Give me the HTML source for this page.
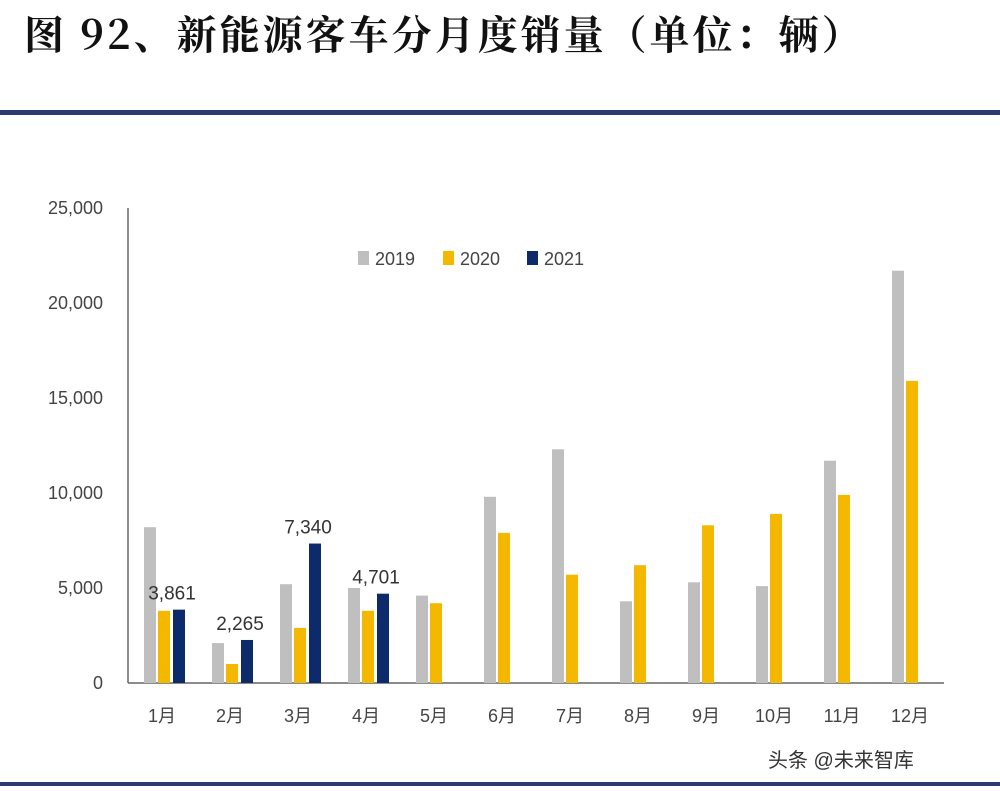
<!DOCTYPE html>
<html><head><meta charset="utf-8"><style>
body{margin:0;background:#fff;width:1000px;height:791px;overflow:hidden;position:relative}
#title{position:absolute;left:24px;top:4px;font:bold 40px "Noto Serif CJK SC","Liberation Serif",serif;color:#111;letter-spacing:3px;white-space:nowrap}
#rule{position:absolute;left:0;top:110px;width:1000px;height:5px;background:#2e3a6e}
#rule2{position:absolute;left:0;top:782px;width:1000px;height:4px;background:#2e3a6e}
#wm{position:absolute;left:768px;top:744px;font:20px "Liberation Sans","Noto Sans CJK SC",sans-serif;color:#333}
</style></head><body>
<div id="title">图 92、新能源客车分月度销量（单位：辆）</div>
<div id="rule"></div>
<svg id="chart" width="1000" height="791" style="position:absolute;left:0;top:0"></svg>
<div id="rule2"></div>
<div id="wm">头条 @未来智库</div>
<script>
const categories=["1月","2月","3月","4月","5月","6月","7月","8月","9月","10月","11月","12月"];
const s2019=[8200,2100,5200,5000,4600,9800,12300,4300,5300,5100,11700,21700];
const s2020=[3800,1000,2900,3800,4200,7900,5700,6200,8300,8900,9900,15900];
const s2021=[3861,2265,7340,4701];
const yTicks=[0,5000,10000,15000,20000,25000];
const seriesNames=["2019","2020","2021"];
const colors=["#bfbfbf","#f5b800","#0d2a6b"];
const NS="http://www.w3.org/2000/svg";
const svg=document.getElementById('chart');
const x0=128,step=68,y0=683,ppu=95/5000;
const y=v=>y0-v*ppu;
const xc=i=>x0+step*(i+0.5);
function mk(t,a){const e=document.createElementNS(NS,t);for(const k in a)e.setAttribute(k,a[k]);svg.appendChild(e);return e;}
yTicks.forEach(t=>{
 const e=mk('text',{x:103,y:y(t)+6,'text-anchor':'end','font-size':18,'font-family':'Liberation Sans, sans-serif',fill:'#444'});
 e.textContent=t.toLocaleString('en-US');
 
 
});
const ax=mk('line',{x1:x0,y1:208,x2:x0,y2:y0,stroke:'#666','stroke-width':1.5});


const bx=mk('line',{x1:x0,y1:y0,x2:x0+step*12,y2:y0,stroke:'#666','stroke-width':1.5});


const bw=12,offs=[-18,-4,11];
[s2019,s2020,s2021].forEach((s,si)=>{
 s.forEach((v,i)=>{
  const r=mk('rect',{x:xc(i)+offs[si],y:y(v),width:bw,height:v*ppu,fill:colors[si]});
  
  
 });
});
s2021.forEach((v,i)=>{
 const t=mk('text',{x:xc(i)+10,y:y(v)-10,'text-anchor':'middle','font-size':19,'font-family':'Liberation Sans, sans-serif',fill:'#333'});
 t.textContent=v.toLocaleString('en-US');
 
 
});
categories.forEach((c,i)=>{
 const t=mk('text',{x:xc(i),y:722,'text-anchor':'middle','font-size':18,'font-family':'Liberation Sans, Noto Sans CJK SC, sans-serif',fill:'#444'});
 t.textContent=c;
 
 
});
const lx=[358,443,527];
seriesNames.forEach((n,i)=>{
 const r=mk('rect',{x:lx[i],y:251,width:11,height:14,fill:colors[i]});
 
 
 const t=mk('text',{x:lx[i]+17,y:265,'font-size':18,'font-family':'Liberation Sans, sans-serif',fill:'#444'});
 t.textContent=n;
 
 
});
</script>
</body></html>
